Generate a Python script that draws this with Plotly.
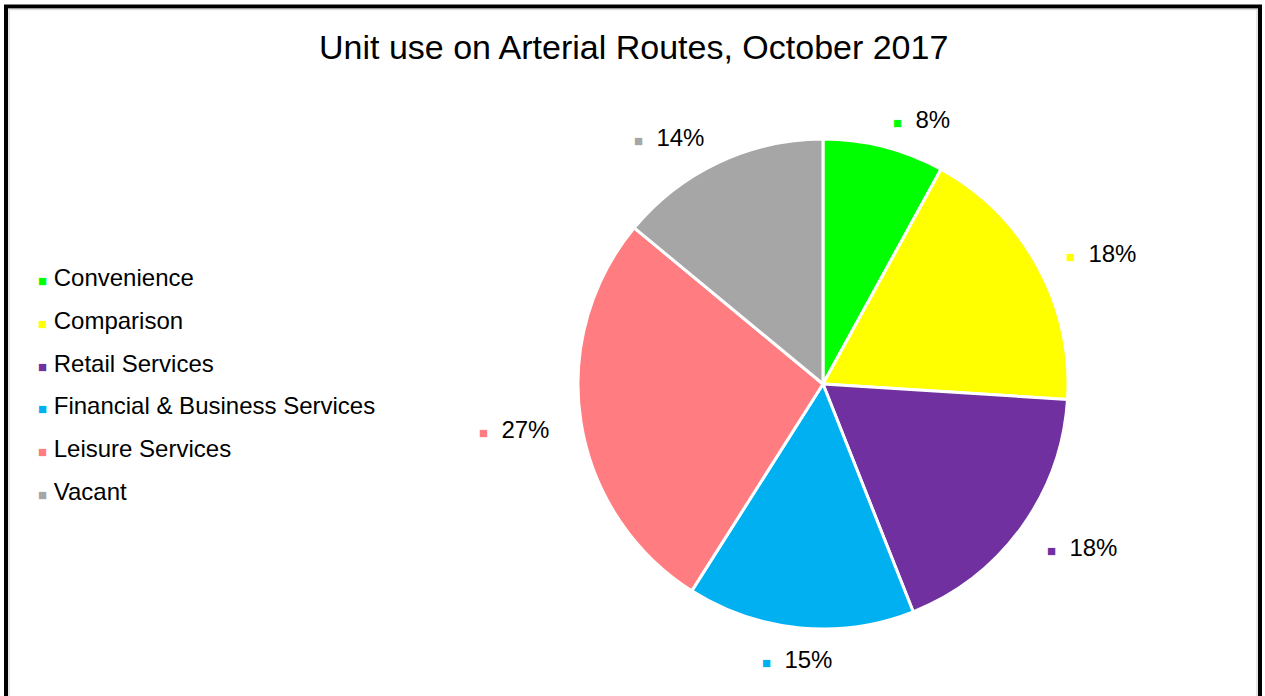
import math
import plotly.graph_objects as go

# ── DATA ─────────────────────────────
labels = ["Convenience", "Comparison", "Retail Services",
          "Financial & Business Services", "Leisure Services", "Vacant"]
values = [8, 18, 18, 15, 27, 14]
colors = ["#00FF00", "#FFFF00", "#7030A0", "#00B0F0", "#FF7C80", "#A6A6A6"]
title = "Unit use on Arterial Routes, October 2017"
# ─────────────────────────────────────

W, H = 1265, 696
CX, CY, R = 823, 384, 245     # pie centre / radius in px
R_LAB = 275                   # label distance from centre
FONT = "Liberation Sans, Arial, sans-serif"
SQ = "<span style='color:{c};font-size:15px'>■</span>"

fig = go.Figure()

fig.add_trace(go.Pie(
    labels=labels,
    values=values,
    sort=False,
    direction="clockwise",
    rotation=0,
    marker=dict(colors=colors, line=dict(color="white", width=3)),
    textinfo="none",
    hoverinfo="label+percent",
    showlegend=False,
    domain=dict(x=[(CX - R) / W, (CX + R) / W],
                y=[1 - (CY + R) / H, 1 - (CY - R) / H]),
))

annotations = []

# data labels around the pie, at each slice's mid angle
total = sum(values)
cum = 0
for v, c in zip(values, colors):
    mid = (cum + v / 2) / total * 2 * math.pi
    cum += v
    s, co = math.sin(mid), math.cos(mid)
    px = CX + R_LAB * s
    py = CY - R_LAB * co
    if s > 0.15:
        xa = "left"
    elif s < -0.15:
        xa = "right"
    else:
        xa = "center"
    annotations.append(dict(
        x=px / W, y=1 - (py + 2) / H, xref="paper", yref="paper",
        xanchor=xa, yanchor="middle", showarrow=False,
        text=SQ.format(c=c) + f"\u00a0\u00a0{v / total * 100:.0f}%",
        font=dict(family=FONT, size=24, color="black"),
    ))

# legend on the left
for i, (lab, c) in enumerate(zip(labels, colors)):
    annotations.append(dict(
        x=36 / W, y=1 - (278 + i * 42.6) / H, xref="paper", yref="paper",
        xanchor="left", yanchor="middle", showarrow=False,
        text=SQ.format(c=c) + f"\u00a0{lab}",
        font=dict(family=FONT, size=24, color="black"),
    ))

# title
annotations.append(dict(
    x=633 / W, y=1 - 47 / H, xref="paper", yref="paper",
    xanchor="center", yanchor="middle", showarrow=False,
    text=title, font=dict(family=FONT, size=34, color="black"),
))

# chart frame (bottom edge runs off the picture)
shapes = [
    dict(type="rect", xref="paper", yref="paper",
         x0=6 / W, x1=1260 / W, y0=-0.05, y1=1 - 6.5 / H,
         line=dict(color="black", width=4), fillcolor="rgba(0,0,0,0)"),
    dict(type="rect", xref="paper", yref="paper",
         x0=9 / W, x1=1257 / W, y0=-0.05, y1=1 - 9.5 / H,
         line=dict(color="#DDDDDD", width=1.5), fillcolor="rgba(0,0,0,0)"),
]

fig.update_layout(
    width=W, height=H,
    margin=dict(l=0, r=0, t=0, b=0),
    paper_bgcolor="white",
    plot_bgcolor="white",
    annotations=annotations,
    shapes=shapes,
    font=dict(family=FONT),
)

# drop the page's default body margin so the figure sits at 0,0
fig.write_html("out.html",
               config={"displayModeBar": False},
               post_script="document.body.style.margin='0px';"
                           "document.body.style.overflow='hidden';")
